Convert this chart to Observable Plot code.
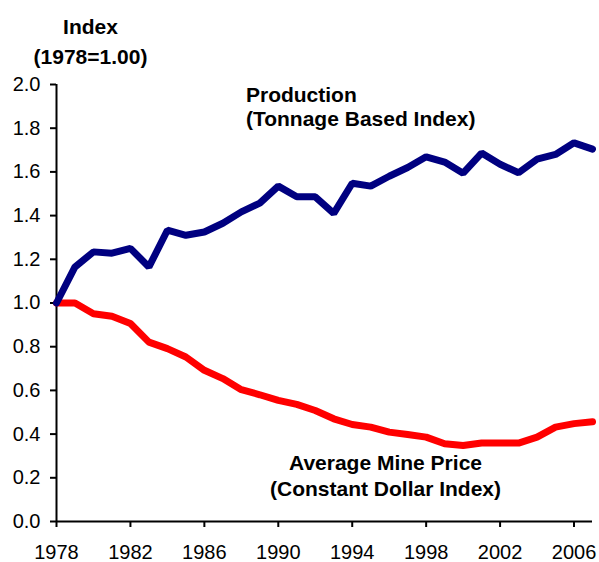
<!DOCTYPE html>
<html>
<head>
<meta charset="utf-8">
<script src="https://cdn.jsdelivr.net/npm/d3@7"></script>
<script src="https://cdn.jsdelivr.net/npm/@observablehq/plot@0.6"></script>
<style>
  html, body { margin: 0; padding: 0; background: #fff; }
  #chart { width: 599px; height: 562px; }
</style>
</head>
<body>
<div id="chart"></div>
<script>
const years = d3.range(1978, 2008);
const production = [1.00, 1.165, 1.234, 1.228, 1.25, 1.165, 1.333, 1.31, 1.325, 1.365,
  1.417, 1.457, 1.535, 1.486, 1.486, 1.41, 1.548, 1.535, 1.58, 1.62,
  1.669, 1.645, 1.594, 1.686, 1.635, 1.596, 1.658, 1.68, 1.733, 1.704];
const price = [1.00, 1.00, 0.951, 0.939, 0.906, 0.821, 0.791, 0.753, 0.692, 0.654,
  0.603, 0.58, 0.554, 0.536, 0.508, 0.47, 0.444, 0.432, 0.409, 0.398,
  0.386, 0.356, 0.348, 0.359, 0.359, 0.359, 0.386, 0.432, 0.448, 0.457];
const xTicks = [1978, 1982, 1986, 1990, 1994, 1998, 2002, 2006];
const yTicks = [0, 0.2, 0.4, 0.6, 0.8, 1.0, 1.2, 1.4, 1.6, 1.8, 2.0];
const axisTitle = ["Index\n(1978=1.00)"];
const productionLabel = ["Production\n(Tonnage Based Index)"];
const priceLabel = ["Average Mine Price\n(Constant Dollar Index)"];

const prodData = years.map((y, i) => ({year: y, value: production[i]}));
const priceData = years.map((y, i) => ({year: y, value: price[i]}));

const font = "'Liberation Sans', Arial, Helvetica, sans-serif";

const chart = Plot.plot({
  width: 599,
  height: 562,
  marginLeft: 56,
  marginRight: 7,
  marginTop: 84,
  marginBottom: 41,
  style: {fontFamily: font, fontSize: "20px", color: "#000", background: "#fff"},
  x: {domain: [1978, 2007]},
  y: {domain: [0, 2]},
  marks: [
    Plot.axisY({ticks: yTicks, tickFormat: d3.format(".1f"), tickSize: 6, tickPadding: 10,
      strokeWidth: 2, label: null, fontSize: 20}),
    Plot.axisX({ticks: xTicks, tickFormat: d3.format("d"), tickSize: 6, tickPadding: 17,
      strokeWidth: 2, label: null, fontSize: 20}),
    Plot.ruleX([1978], {stroke: "#000", strokeWidth: 2}),
    Plot.ruleY([0], {stroke: "#000", strokeWidth: 2}),
    Plot.line(priceData, {x: "year", y: "value", stroke: "#ff0000", strokeWidth: 7, strokeLinejoin: "miter"}),
    Plot.line(prodData, {x: "year", y: "value", stroke: "#000080", strokeWidth: 7, strokeLinejoin: "miter"}),
    Plot.text(axisTitle, {frameAnchor: "top-left", dx: 34, dy: -72, text: d => d,
      textAnchor: "middle", lineAnchor: "top", lineHeight: 1.43, fontWeight: "bold", fontSize: 21, fill: "#000"}),
    Plot.text(productionLabel, {x: () => 1988.25, y: () => 1.995, text: d => d,
      textAnchor: "start", lineAnchor: "top", lineHeight: 1.12, fontWeight: "bold", fontSize: 21, fill: "#000"}),
    Plot.text(priceLabel, {x: () => 1995.8, y: () => 0.316, text: d => d,
      textAnchor: "middle", lineAnchor: "top", lineHeight: 1.2, fontWeight: "bold", fontSize: 21, fill: "#000"})
  ]
});
document.getElementById("chart").appendChild(chart);
</script>
</body>
</html>
